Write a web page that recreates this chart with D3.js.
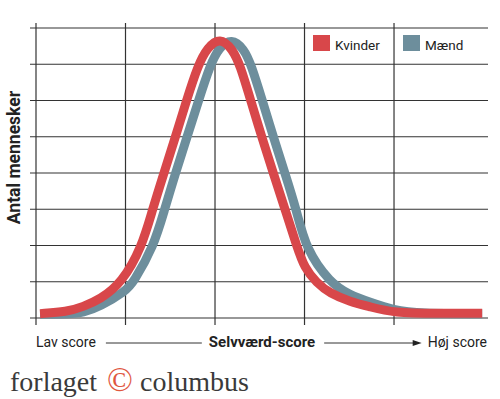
<!DOCTYPE html>
<html>
<head>
<meta charset="utf-8">
<script src="https://cdn.jsdelivr.net/npm/d3@7"></script>
<style>
  html, body { margin: 0; padding: 0; background: #fff; }
  svg { display: block; }
  text { font-family: Roboto, "Open Sans", sans-serif; fill: #222; }
</style>
</head>
<body>
<svg id="chart" width="500" height="399"></svg>
<script>
const xGrid = [0, 20, 40, 60, 80];
const yGrid = [0, 10, 20, 30, 40, 50, 60, 70, 80];

// Kvinder (red)
const womenScore = [0.9, 6.9, 10.5, 14.3, 19.2, 23.7, 26.0, 28.5, 31.1, 33.6, 36.2, 38.3, 41.1, 43.9, 45.6, 48.0, 50.5, 53.1, 55.7, 58.3, 60.0, 62.7, 65.7, 70.2, 74.6, 79.8, 90, 99.7];
const womenCount = [1.2, 1.7, 3.1, 5.1, 9.7, 19.7, 29.8, 39.7, 49.7, 59.9, 69.8, 74.6, 77.4, 74.2, 69.8, 59.9, 49.7, 39.7, 29.8, 19.7, 13.8, 9.7, 6.8, 4.5, 3.1, 1.4, 1.3, 1.3];

// Mænd (blue-grey)
const menScore = [0.9, 7.6, 10.5, 14.3, 20.1, 21.7, 26.3, 28.7, 31.1, 33.7, 36.3, 38.9, 40.9, 43.7, 46.5, 48.1, 50.6, 53.1, 55.7, 58.2, 60.3, 65.7, 70.2, 74.6, 79.8, 85.8, 99.7];
const menCount = [1.0, 1.1, 1.5, 3.1, 7.5, 9.7, 19.7, 29.8, 39.7, 49.7, 59.9, 69.8, 74.6, 77.2, 74.2, 69.8, 59.9, 49.7, 39.7, 29.8, 19.0, 9.7, 6.3, 4.4, 2.2, 1.2, 1.2];

const seriesNames = ["Kvinder", "Mænd"];
const seriesColors = ["#d8474a", "#6d8e9c"];

const svg = d3.select("#chart");

const x = d3.scaleLinear().domain([0, 101]).range([36, 488]);
const y = d3.scaleLinear().domain([0, 80]).range([318, 28]);

// grid
const grid = svg.append("g").attr("stroke", "#333").attr("stroke-width", 1.2);
grid.selectAll("line.h")
  .data(yGrid)
  .join("line")
  .attr("class", "h")
  .attr("x1", x(0) - 6)
  .attr("x2", x(101))
  .attr("y1", d => y(d))
  .attr("y2", d => y(d));
grid.selectAll("line.v")
  .data(xGrid)
  .join("line")
  .attr("class", "v")
  .attr("x1", d => x(d))
  .attr("x2", d => x(d))
  .attr("y1", y(80) - 5)
  .attr("y2", y(0) + 7);

// curves
const line = d3.line()
  .x(d => x(d[0]))
  .y(d => y(d[1]))
  .curve(d3.curveBasis);

const women = d3.zip(womenScore, womenCount);
const men = d3.zip(menScore, menCount);

// men under, women on top
[[men, seriesColors[1]], [women, seriesColors[0]]].forEach(([pts, col]) => {
  svg.append("path")
    .datum(pts)
    .attr("fill", "none")
    .attr("stroke", col)
    .attr("stroke-width", 9)
    .attr("stroke-linejoin", "round")
    .attr("d", line);
});

// legend
const legendX = [313, 403];
const leg = svg.append("g");
seriesNames.forEach((name, i) => {
  leg.append("rect")
    .attr("x", legendX[i]).attr("y", 35)
    .attr("width", 17).attr("height", 16)
    .attr("fill", seriesColors[i]);
  leg.append("text")
    .attr("x", legendX[i] + 22).attr("y", 50)
    .attr("font-size", 13.5)
    .text(name);
});

// y label
svg.append("text")
  .attr("transform", "translate(20,157.5) rotate(-90)")
  .attr("text-anchor", "middle")
  .attr("font-weight", "bold")
  .attr("font-size", 17.5)
  .text("Antal mennesker");

// x labels with arrow
const baseY = 347;
const lav = svg.append("text")
  .attr("x", x(0)).attr("y", baseY)
  .attr("font-size", 14)
  .text("Lav score");
const mid = svg.append("text")
  .attr("x", (x(0) + x(101)) / 2).attr("y", baseY)
  .attr("text-anchor", "middle")
  .attr("font-weight", "bold")
  .attr("font-size", 15)
  .text("Selvværd-score");
const hoj = svg.append("text")
  .attr("x", 487).attr("y", baseY)
  .attr("text-anchor", "end")
  .attr("font-size", 14)
  .text("Høj score");

const lavEnd = lav.node().getBBox();
const midBox = mid.node().getBBox();
const hojBox = hoj.node().getBBox();
const arrowY = baseY - 4;

svg.append("line")
  .attr("x1", lavEnd.x + lavEnd.width + 10).attr("x2", midBox.x - 7)
  .attr("y1", arrowY).attr("y2", arrowY)
  .attr("stroke", "#333").attr("stroke-width", 1);
const aEnd = hojBox.x - 6;
svg.append("line")
  .attr("x1", midBox.x + midBox.width + 9).attr("x2", aEnd - 4)
  .attr("y1", arrowY).attr("y2", arrowY)
  .attr("stroke", "#333").attr("stroke-width", 1);
svg.append("path")
  .attr("d", `M${aEnd},${arrowY} L${aEnd - 9},${arrowY - 3} L${aEnd - 9},${arrowY + 3} Z`)
  .attr("fill", "#222");

// publisher mark
const serif = "'Liberation Serif', 'DejaVu Serif', serif";
svg.append("text")
  .attr("x", 10).attr("y", 391)
  .style("font-family", serif)
  .attr("font-size", 28)
  .style("fill", "#3a3a3a")
  .text("forlaget");
svg.append("text")
  .attr("x", 120).attr("y", 391)
  .attr("text-anchor", "middle")
  .style("font-family", serif)
  .attr("font-size", 34)
  .style("fill", "#e0573f")
  .text("©");
svg.append("text")
  .attr("x", 140).attr("y", 391)
  .style("font-family", serif)
  .attr("font-size", 28)
  .style("fill", "#3a3a3a")
  .text("columbus");
</script>
</body>
</html>
